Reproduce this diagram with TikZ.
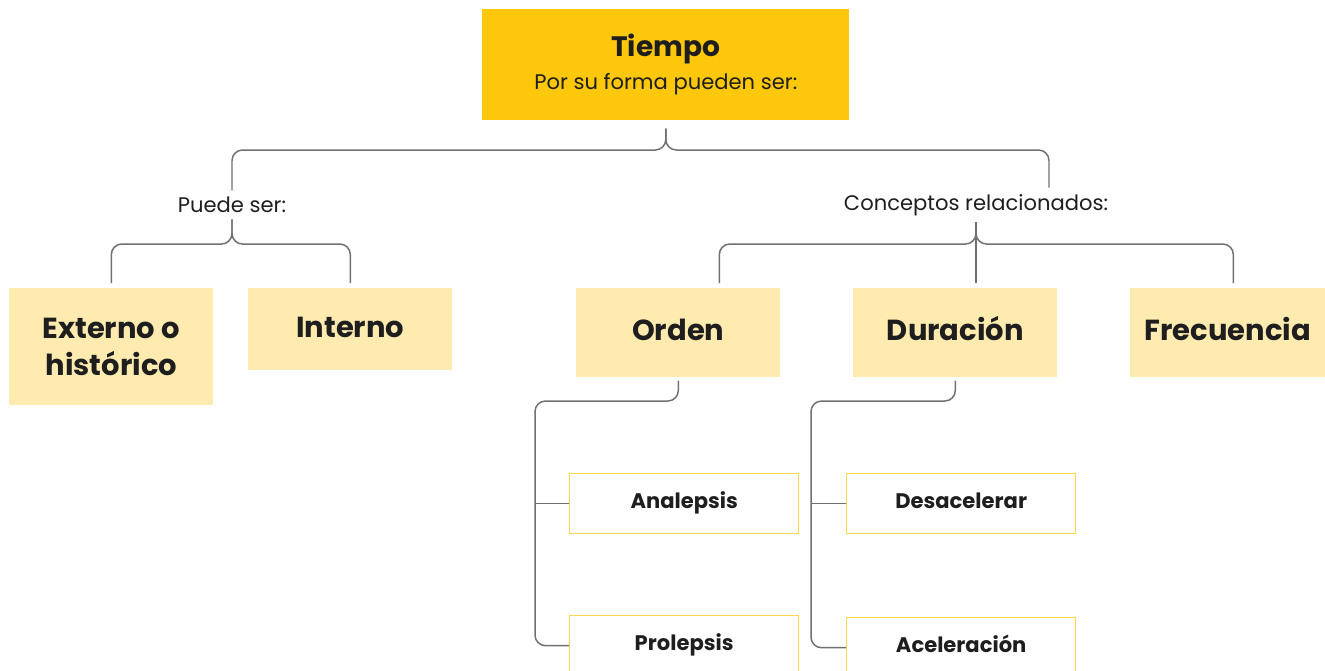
\documentclass[tikz,border=0pt]{standalone}
\usepackage{fontspec}
\setmainfont{Poppins}
\usetikzlibrary{positioning}
\definecolor{oro}{HTML}{FDC70C}
\definecolor{crema}{HTML}{FFEBB0}
\definecolor{borde}{HTML}{FDD54A}
\definecolor{linea}{HTML}{707070}
\definecolor{tinta}{HTML}{1E1E1E}
\tikzset{
  caja/.style={fill=crema,inner sep=0pt,anchor=north west,align=center,text=tinta,font=\fontsize{16.5}{21.5}\selectfont\bfseries},
  una/.style={text height=12pt,text depth=3pt},
  sub/.style={draw=borde,line width=0.8pt,fill=white,inner sep=0pt,anchor=north west,minimum width=4.58cm,minimum height=1.2cm,text height=8.5pt,text depth=2.5pt,text=tinta,font=\fontsize{12}{14}\selectfont\bfseries},
  etiq/.style={text=tinta,inner sep=3.5pt,font=\fontsize{12}{14}\selectfont},
  conn/.style={draw=linea,line width=0.85pt,rounded corners=6pt},
}
\begin{document}
\begin{tikzpicture}[x=0.02cm,y=-0.02cm]
\useasboundingbox (0,0) rectangle (1325,670);
% cabecera y etiquetas
\node[fill=oro,anchor=north west,minimum width=7.34cm,minimum height=2.22cm,inner sep=0pt,align=center,text=tinta,font=\fontsize{12}{18.5}\selectfont] (tiempo) at (482,9) {{\fontsize{16}{18.5}\selectfont\bfseries Tiempo}\\Por su forma pueden ser:\\[-15pt]};
\node[etiq] (puede) at (232,205) {Puede ser:};
\node[etiq] (conc) at (976,205) {Conceptos relacionados:};
% cajas
\foreach \n/\x/\w/\h/\op/\txt in {ext/9/4.08/2.34/{}/{Externo o\\histórico},int/248/4.08/1.64/una/Interno,orden/576/4.08/1.78/una/Orden,dur/853/4.08/1.78/una/Duración,frec/1130/3.9/1.78/una/Frecuencia}
  \node[caja,\op,minimum width=\w cm,minimum height=\h cm] (\n) at (\x,288) {\txt};
\foreach \n/\x/\y/\txt in {ana/569/473/Analepsis,pro/569/615/Prolepsis,des/846/473/Desacelerar,ace/846/617/Aceleración}
  \node[sub] (\n) at (\x,\y) {\txt};
% llaves
\path ([xshift=1.46cm]conc.north) coordinate (cr) ([xshift=0.82cm]orden.north) coordinate (oc) ([xshift=0.11cm]frec.north) coordinate (fc);
\draw[conn,shorten <=4.5pt] (tiempo.south) |- (puede.north |- 0,150) -- (puede.north);
\draw[conn,shorten <=4.5pt] (tiempo.south) |- (cr |- 0,150) -- (cr);
\foreach \b in {ext,int}\draw[conn,shorten >=2.8pt] (puede.south) |- (\b.north |- 0,244) -- (\b.north);
\foreach \b in {oc,fc}\draw[conn,shorten >=2.8pt] (conc.south) |- (\b |- 0,244) -- (\b);
\draw[conn,shorten >=2.8pt] (conc.south) -- (conc.south |- dur.north);
% ramas inferiores
\path ([xshift=-0.68cm]ana.west) coordinate (os) ([xshift=-0.7cm]des.west) coordinate (ds);
\draw[conn,shorten <=1.7pt] (orden.south) |- (os |- 0,401) |- (pro.west);
\draw[conn] (os) -- (ana.west);
\draw[conn,shorten <=1.7pt] (dur.south) |- (ds |- 0,401) |- (ace.west);
\draw[conn] (ds) -- (des.west);
\end{tikzpicture}
\end{document}
